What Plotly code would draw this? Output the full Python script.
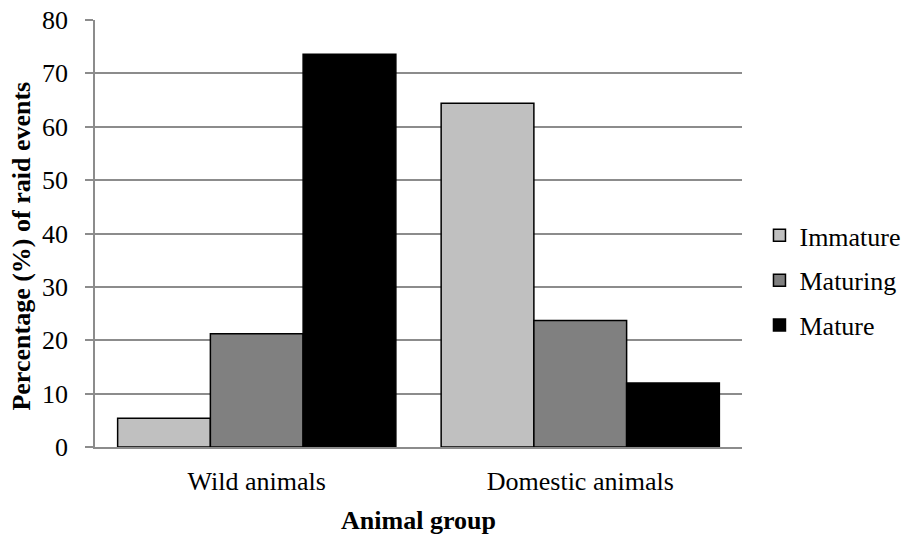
import plotly.graph_objects as go

# Raid events by animal group and crop maturity stage
groups = ["Wild animals", "Domestic animals"]
stages = ["Immature", "Maturing", "Mature"]
immature = [5.4, 64.4]
maturing = [21.2, 23.7]
mature = [73.6, 12.0]
y_ticks = [0, 10, 20, 30, 40, 50, 60, 70, 80]

series = [immature, maturing, mature]
fills = ["#c0c0c0", "#808080", "#000000"]

SERIF = "Liberation Serif, Times New Roman, serif"
GRID = "#8c8c8c"
FS = 26

fig = go.Figure()
for name, vals, col in zip(stages, series, fills):
    fig.add_trace(go.Bar(
        x=groups, y=vals, name=name,
        marker=dict(color=col, line=dict(color="#000000", width=1.5)),
        legendgroup=name,
    ))

fig.update_layout(
    width=906, height=535,
    margin=dict(l=95, r=164, t=20, b=88, autoexpand=False),
    paper_bgcolor="white", plot_bgcolor="white",
    barmode="group", bargap=0.14, bargroupgap=0,
    font=dict(family=SERIF, size=FS, color="#000000"),
    showlegend=True,
    legend=dict(
        x=1.027, xanchor="left", y=0.39, yanchor="middle",
        font=dict(family=SERIF, size=FS, color="#000000"),
        traceorder="grouped", tracegroupgap=8,
        itemwidth=30, bgcolor="rgba(0,0,0,0)",
    ),
    xaxis=dict(
        showline=True, linecolor=GRID, linewidth=1.5,
        ticks="", showgrid=False,
        tickfont=dict(family=SERIF, size=FS),
        ticklabelstandoff=10,
        title=dict(text="<b>Animal group</b>", font=dict(family=SERIF, size=FS), standoff=16),
    ),
    yaxis=dict(
        range=[0, 80], tickvals=y_ticks,
        showline=True, linecolor=GRID, linewidth=1.5,
        ticks="outside", ticklen=8, tickcolor=GRID, tickwidth=1.5,
        showgrid=True, gridcolor=GRID, gridwidth=1.5,
        zeroline=False,
        tickfont=dict(family=SERIF, size=FS),
        ticklabelstandoff=12,
    ),
)

# Vertical axis title, placed slightly below the plot's mid-height
fig.add_annotation(
    text="<b>Percentage (%) of raid events</b>",
    textangle=-90, showarrow=False,
    xref="paper", yref="paper",
    x=-0.114, y=0.47, xanchor="center", yanchor="middle",
    font=dict(family=SERIF, size=FS, color="#000000"),
)

fig.write_html("out.html")
